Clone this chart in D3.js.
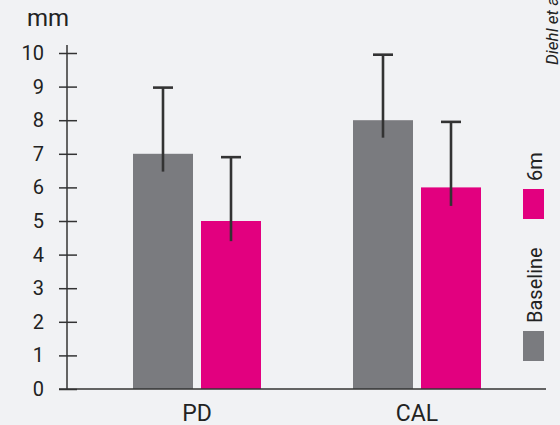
<!DOCTYPE html>
<html>
<head>
<meta charset="utf-8">
<script src="https://cdn.jsdelivr.net/npm/d3@7"></script>
<style>
  body { margin: 0; background: #f1f2f4; }
  svg { display: block; font-family: Roboto, "Noto Sans", sans-serif; }
</style>
</head>
<body>
<div id="chart"></div>
<script>
// data
const categories = ['PD', 'CAL']
const series = ['Baseline', '6m']
const values = [ [7, 5], [8, 6] ]          // [category][series]
const errHigh = [ [8.97, 6.9], [9.95, 7.95] ]
const errLow = [ [6.47, 4.4], [7.48, 5.45] ]
const yTicks = [0, 1, 2, 3, 4, 5, 6, 7, 8, 9, 10]
const colors = ['#7a7b7f', '#e2007f']

const W = 560, H = 425

const svg = d3.select('#chart').append('svg')
  .attr('width', W)
  .attr('height', H)

svg.append('rect').attr('width', W).attr('height', H).attr('fill', '#f1f2f4')

const y = d3.scaleLinear().domain([0, 10]).range([389, 53])

// category centres
const x0 = d3.scalePoint().domain(categories).range([87, 527]).padding(0.5)
// bars inside a group
const x1 = d3.scaleBand().domain(series).range([-64, 64]).paddingInner(8 / 68)

// bars
categories.forEach((c, ci) => {
  const g = svg.append('g').attr('transform', `translate(${x0(c)},0)`)
  series.forEach((s, si) => {
    g.append('rect')
      .attr('x', x1(s))
      .attr('y', y(values[ci][si]))
      .attr('width', x1.bandwidth())
      .attr('height', y(0) - y(values[ci][si]))
      .attr('fill', colors[si])
  })
  // error bars
  series.forEach((s, si) => {
    const cx = x1(s) + x1.bandwidth() / 2
    g.append('line')
      .attr('x1', cx).attr('x2', cx)
      .attr('y1', y(errLow[ci][si])).attr('y2', y(errHigh[ci][si]))
      .attr('stroke', '#333').attr('stroke-width', 2.6)
    g.append('line')
      .attr('x1', cx - 10).attr('x2', cx + 10)
      .attr('y1', y(errHigh[ci][si])).attr('y2', y(errHigh[ci][si]))
      .attr('stroke', '#333').attr('stroke-width', 2.6)
  })
})

// y axis
const yAxis = svg.append('g')
  .attr('transform', 'translate(67,0)')
  .call(d3.axisLeft(y).tickValues(yTicks).tickSizeOuter(0).tickPadding(17))
yAxis.select('.domain').remove()
yAxis.selectAll('.tick line')
  .attr('x1', -8).attr('x2', 10)
  .attr('stroke', '#333').attr('stroke-width', 1.5)
yAxis.selectAll('.tick text')
  .attr('font-size', 20).attr('fill', '#222')
  .style('font-family', 'Roboto, sans-serif')
yAxis.append('line')
  .attr('y1', 45).attr('y2', y(0))
  .attr('stroke', '#333').attr('stroke-width', 1.5)

// x baseline
svg.append('line')
  .attr('x1', 59).attr('x2', 546)
  .attr('y1', y(0)).attr('y2', y(0))
  .attr('stroke', '#333').attr('stroke-width', 1.5)

// category labels
svg.selectAll('.cat')
  .data(categories)
  .join('text')
  .attr('class', 'cat')
  .attr('x', d => x0(d))
  .attr('y', 421)
  .attr('text-anchor', 'middle')
  .attr('font-size', 23)
  .attr('fill', '#222')
  .text(d => d)

// unit label
svg.append('text')
  .attr('x', 27).attr('y', 26)
  .attr('font-size', 24).attr('fill', '#222')
  .text('mm')

// legend, rotated
const legY = [361, 219]
series.forEach((s, si) => {
  svg.append('rect')
    .attr('x', 523).attr('y', legY[si] - 30)
    .attr('width', 21).attr('height', 30)
    .attr('fill', colors[si])
  svg.append('text')
    .attr('transform', `translate(542,${legY[si] - 38}) rotate(-90)`)
    .attr('font-size', 20).attr('fill', '#222')
    .text(s)
})

// source note, cut off at the top
svg.append('text')
  .attr('transform', 'translate(558,65) rotate(-90)')
  .attr('font-size', 17).attr('font-style', 'italic').attr('fill', '#222')
  .text('Diehl et al.')
</script>
</body>
</html>
